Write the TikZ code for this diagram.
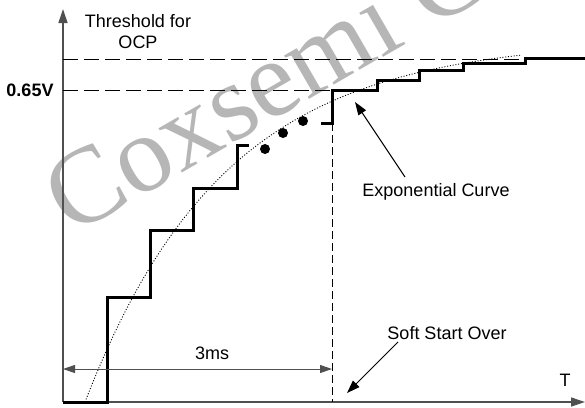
\documentclass[tikz,border=0pt]{standalone}
\usepackage{fontspec}
\setmainfont{Liberation Sans}
\newfontfamily\markfont{Liberation Serif}
\usetikzlibrary{positioning,arrows.meta,calc}
\definecolor{AxisGrey}{RGB}{80,80,80}
\definecolor{MarkGrey}{RGB}{182,182,182}
\tikzset{
  axisline/.style={-{Triangle[length=14pt,width=9pt]},line width=1.3pt,draw=AxisGrey},
  stairline/.style={line width=3pt,draw=black,line join=miter},
  levelline/.style={line width=1pt,dash pattern=on 15pt off 6pt},
  endline/.style={line width=1pt,dash pattern=on 8pt off 4pt},
  curveline/.style={line width=0.9pt,dash pattern=on 1pt off 1.8pt},
  dimline/.style={{Triangle[length=12pt,width=8pt]}-{Triangle[length=12pt,width=8pt]},
    line width=1pt,draw=AxisGrey},
  callout/.style={-{Triangle[length=13pt,width=9pt]},line width=1pt},
  txt/.style={font=\fontsize{18}{21}\selectfont,align=center,inner sep=0pt},
  stepdot/.style={circle,fill=black,inner sep=0pt,minimum size=10pt}
}
\begin{document}
\begin{tikzpicture}[x=1pt,y=-1pt]
  \useasboundingbox (0,0) rectangle (585,407);
  % watermark, behind everything
  \node[text=MarkGrey,font=\markfont\fontsize{109}{109}\selectfont,rotate=30,
    inner sep=0pt] (mark) at (265,84) {Coxsemi C};
  % axes
  \coordinate (origin) at (63,402);
  \coordinate (ytip) at (63,9);
  \coordinate (xtip) at (585,402);
  \draw[axisline] (origin) -- (ytip);
  \draw[axisline] (origin) -- (xtip);
  % levels
  \coordinate (ocpL) at (63,59);
  \coordinate (ocpR) at (525,59);
  \coordinate (refL) at (63,90);
  \coordinate (refR) at (332,90);
  \draw[levelline] (ocpL) -- (ocpR);
  \draw[levelline] (refL) -- (refR);
  \node[txt] (ocp) at (138,32) {Threshold for\\OCP};
  \node[txt,font=\fontsize{18}{21}\selectfont\bfseries] (volt) at (30,90) {0.65V};
  % exponential curve
  \draw[curveline] plot[domain=85:520,samples=80] (\x,{402-363*(1-exp(-(\x-85)/140))});
  % staircase
  \draw[stairline] (origin) -- (107,402) -- (107,297) -- (150,297) -- (150,230)
    -- (193,230) -- (193,188) -- (237,188) -- (237,145) -- (249,145);
  \draw[stairline] (321,123) -- (332,123) -- (332,90) -- (377,90) -- (377,80)
    -- (419,80) -- (419,70) -- (463,70) -- (463,63) -- (525,63) -- (525,58) -- (585,58);
  \node[stepdot] (dotA) at (265,149) {};
  \node[stepdot] (dotB) at (283,133) {};
  \node[stepdot] (dotC) at (303,121) {};
  % end of soft start
  \coordinate (endtop) at (332,123);
  \coordinate (endbot) at (332,402);
  \draw[endline] (endtop) -- (endbot);
  \coordinate (dimL) at (63,369);
  \coordinate (dimR) at (332,369);
  \draw[dimline] (dimL) -- (dimR);
  \node[txt] (span) at (212,353) {3ms};
  % callouts
  \node[txt] (expo) at (436,192) {Exponential Curve};
  \coordinate (expotip) at (355,102);
  \draw[callout] (405,177) -- (expotip);
  \node[txt] (over) at (447,333) {Soft Start Over};
  \coordinate (overtip) at (347,393);
  \draw[callout] (398,342) -- (overtip);
  \node[txt] (taxis) at (565,380) {T};
\end{tikzpicture}
\end{document}
